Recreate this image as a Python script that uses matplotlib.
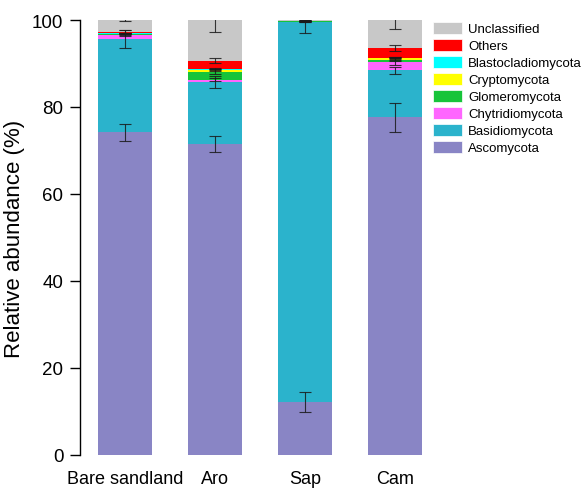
import matplotlib
matplotlib.use("Agg")
import matplotlib.pyplot as plt
import numpy as np
from matplotlib.patches import Patch

plt.rcParams['font.family'] = ['Liberation Sans', 'DejaVu Sans']

groups = ["Bare sandland", "Aro", "Sap", "Cam"]

# stacked from bottom to top
phyla = ["Ascomycota", "Basidiomycota", "Chytridiomycota", "Glomeromycota",
         "Cryptomycota", "Blastocladiomycota", "Others", "Unclassified"]

ascomycota      = [74.2, 71.5, 12.2, 77.6]
basidiomycota   = [21.4, 14.2, 87.4, 10.9]
chytridiomycota = [1.0, 0.6, 0.05, 1.8]
glomeromycota   = [0.1, 1.85, 0.02, 0.6]
cryptomycota    = [0.15, 0.45, 0.02, 0.4]
blastocladio    = [0.05, 0.05, 0.01, 0.05]
others          = [0.4, 2.0, 0.1, 2.2]
unclassified    = [2.7, 9.35, 0.4, 6.45]

ascomycota_sd      = [2.0, 1.8, 2.3, 3.4]
basidiomycota_sd   = [2.0, 1.4, 2.6, 0.8]
chytridiomycota_sd = [0.3, 0.3, 0.05, 0.6]
glomeromycota_sd   = [0.1, 0.5, 0.02, 0.3]
cryptomycota_sd    = [0.1, 0.3, 0.02, 0.2]
blastocladio_sd    = [0.05, 0.05, 0.01, 0.05]
others_sd          = [0.3, 0.6, 0.1, 0.6]
unclassified_sd    = [0.3, 2.8, 0.3, 2.1]

colors = {
    "Ascomycota": "#8985C5",
    "Basidiomycota": "#2BB3CC",
    "Chytridiomycota": "#FF66FF",
    "Glomeromycota": "#17C43A",
    "Cryptomycota": "#FFFF00",
    "Blastocladiomycota": "#00FFFF",
    "Others": "#FF0000",
    "Unclassified": "#C8C8C8",
}

values = [ascomycota, basidiomycota, chytridiomycota, glomeromycota,
          cryptomycota, blastocladio, others, unclassified]
errors = [ascomycota_sd, basidiomycota_sd, chytridiomycota_sd, glomeromycota_sd,
          cryptomycota_sd, blastocladio_sd, others_sd, unclassified_sd]

fig = plt.figure(figsize=(5.82, 4.89), dpi=100)
ax = fig.add_axes([80 / 582, 33 / 489, 360 / 582, 435 / 489])

x = np.arange(len(groups))
bottom = np.zeros(len(groups))
for name, vals, sd in zip(phyla, values, errors):
    vals = np.array(vals)
    ax.bar(x, vals, width=0.6, bottom=bottom, color=colors[name],
           edgecolor="none", zorder=2)
    top = bottom + vals
    ax.errorbar(x, top, yerr=sd, fmt="none", ecolor="#1a1a1a", elinewidth=0.8,
                capsize=4.5, capthick=0.8, alpha=0.85, zorder=3)
    bottom = top

ax.set_xlim(-0.5, 3.5)
ax.set_ylim(0, 100)
ax.set_yticks([0, 20, 40, 60, 80, 100])
ax.set_xticks(x)
ax.set_xticklabels(groups, fontsize=13)
ax.tick_params(axis="x", length=0, pad=11)
ax.tick_params(axis="y", length=7, width=1, labelsize=13.5, pad=5)
for s in ["top", "right", "bottom"]:
    ax.spines[s].set_visible(False)
ax.spines["left"].set_linewidth(1)
ax.set_ylabel("Relative abundance (%)", fontsize=16, labelpad=5)

handles = [Patch(facecolor=colors[n], edgecolor="white", linewidth=0.5)
           for n in phyla[::-1]]
fig.legend(handles, phyla[::-1], loc="upper left",
           bbox_to_anchor=(433 / 582, 1 - 23 / 489), frameon=False,
           fontsize=9.5, handlelength=2.2, handleheight=1.0,
           handletextpad=0.45, labelspacing=0.27, borderpad=0,
           borderaxespad=0)

fig.savefig("out.png", dpi=100)
